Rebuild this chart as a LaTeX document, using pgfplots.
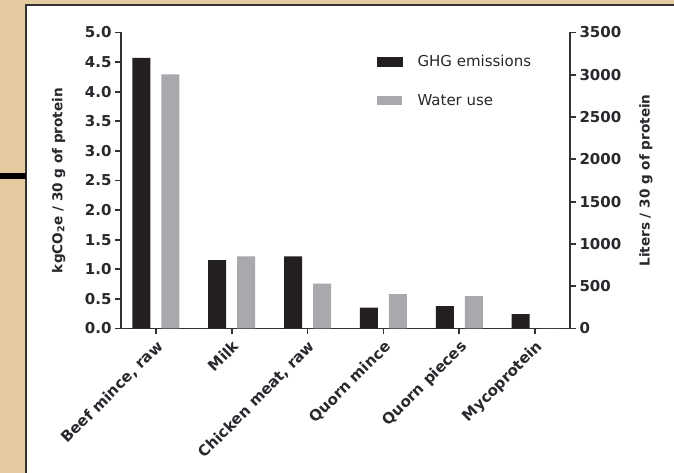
\documentclass[border=0pt]{standalone}
\usepackage{fontspec}
\setmainfont{DejaVu Sans}
\usepackage{graphicx}
\usepackage{pgfplots}
\pgfplotsset{compat=1.18}
\definecolor{bg}{RGB}{228,203,160}
\definecolor{barblack}{RGB}{35,31,32}
\definecolor{bargray}{RGB}{167,169,172}
\definecolor{axgray}{RGB}{50,50,50}
\definecolor{txt}{RGB}{40,40,45}
\pgfplotsset{
 common/.style={
  scale only axis, width=449pt, height=296pt,
  at={(121pt,144.5pt)}, anchor=south west,
  xmin=-0.46, xmax=5.46, ymin=0,
  axis line style={axgray, line width=1.8pt},
  tick style={axgray, line width=1.8pt},
  major tick length=6pt,
  tick align=outside,
  /pgf/number format/assume math mode=true,
  ticklabel style={font=\fontsize{15}{18}\selectfont\bfseries, text=txt},
  label style={font=\fontsize{13.6}{16}\selectfont\bfseries, text=txt},
  clip=false,
 }
}
\begin{document}
\begin{tikzpicture}[x=1pt,y=1pt]
\useasboundingbox (0,0) rectangle (674,473);
\fill[bg] (0,0) rectangle (674,473);
\fill[white] (26,0) rectangle (674,468);
\draw[axgray, line width=2.2pt] (26,-2) -- (26,468) -- (676,468);
\draw[black, line width=6pt] (-1,297) -- (26,297);

\begin{axis}[common,
 axis x line*=bottom, axis y line*=left,
 ymax=5, ytick={0,0.5,1,1.5,2,2.5,3,3.5,4,4.5,5},
 yticklabel style={/pgf/number format/.cd, fixed, fixed zerofill, precision=1},
 xtick={0,1,2,3,4,5},
 xticklabels={{Beef mince, raw}, Milk, {Chicken meat, raw}, Quorn mince, Quorn pieces, Mycoprotein},
 xticklabel style={rotate=45, anchor=north east},
 ylabel={kgCO\textsubscript{2}e / 30 g of protein},
 ylabel style={at={(axis description cs:-0.139,0.5)}, anchor=center},
]
\addplot[ybar, bar width=18pt, bar shift=-14.5pt, fill=barblack, draw=none]
 coordinates {(0,4.57) (1,1.153) (2,1.22) (3,0.354) (4,0.377) (5,0.242)};
\end{axis}

\begin{axis}[common,
 axis x line=none, axis y line*=right,
 ymax=3500, ytick={0,500,1000,1500,2000,2500,3000,3500},
 yticklabel style={/pgf/number format/1000 sep={}},
 ylabel={Liters / 30 g of protein},
 ylabel style={at={(axis description cs:1.169,0.5)}, anchor=center},
 legend style={at={(axis description cs:0.57,0.93)}, anchor=north west,
   draw=none, fill=none, inner sep=0pt, font=\fontsize{15}{18}\selectfont,
   text=txt, row sep=22pt, cells={anchor=west},
   /tikz/every odd column/.append style={column sep=13pt}},
]
\addlegendimage{legend image code/.code={\fill[barblack] (0pt,-4.5pt) rectangle (25pt,4.5pt);}}
\addlegendentry{GHG emissions}
\addplot[ybar, bar width=18pt, bar shift=14.5pt, fill=bargray, draw=none,
 legend image code/.code={\fill[bargray] (0pt,-4.5pt) rectangle (25pt,4.5pt);}]
 coordinates {(0,3005) (1,854) (2,531) (3,405) (4,382) (5,0)};
\addlegendentry{Water use}
\end{axis}
\end{tikzpicture}
\end{document}
